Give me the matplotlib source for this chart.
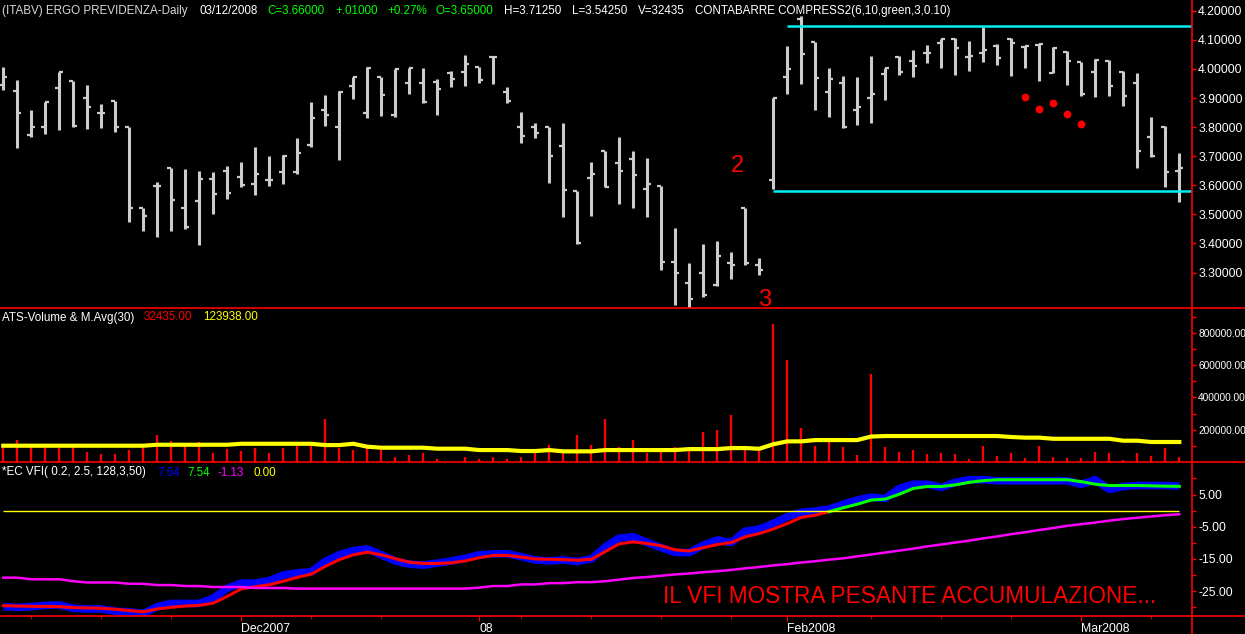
import numpy as np
import matplotlib.pyplot as plt
from matplotlib.lines import Line2D
from matplotlib.ticker import FixedLocator, FormatStrFormatter

# daily OHLC bars (one per trading day, last = 03/12/2008)
opens = [3.945, 3.925, 3.773, 3.800, 3.934, 3.959, 3.900, 3.848, 3.891, 3.800,
         3.522, 3.598, 3.660, 3.522, 3.546, 3.622, 3.649, 3.628, 3.604, 3.618,
         3.646, 3.645, 3.738, 3.859, 3.801, 3.941, 3.848, 3.973, 3.842, 3.953,
         3.953, 3.956, 3.987, 3.990, 4.008, 4.042, 3.922, 3.800, 3.800, 3.801,
         3.735, 3.581, 3.625, 3.719, 3.678, 3.689, 3.586, 3.599, 3.337, 3.265,
         3.298, 3.257, 3.334, 3.523, 3.326, 3.618, 3.973, 4.171, 4.093, 3.922,
         3.951, 3.859, 3.899, 3.982, 4.042, 4.028, 4.054, 4.090, 4.102, 4.042,
         4.054, 4.079, 4.102, 4.075, 4.082, 3.987, 4.059, 4.025, 3.990, 4.028,
         3.990, 3.953, 3.767, 3.801, 3.650]
highs = [4.006, 3.962, 3.859, 3.887, 3.990, 3.959, 3.945, 3.879, 3.891, 3.801,
         3.523, 3.612, 3.660, 3.656, 3.650, 3.646, 3.667, 3.681, 3.732, 3.702,
         3.704, 3.762, 3.887, 3.910, 3.925, 3.972, 4.008, 3.973, 4.001, 4.002,
         4.002, 3.964, 3.993, 4.048, 4.008, 4.042, 3.937, 3.853, 3.814, 3.801,
         3.815, 3.581, 3.681, 3.719, 3.767, 3.718, 3.695, 3.599, 3.452, 3.334,
         3.398, 3.410, 3.372, 3.523, 3.349, 3.901, 4.080, 4.182, 4.093, 4.002,
         3.976, 3.971, 4.044, 4.002, 4.044, 4.065, 4.082, 4.102, 4.105, 4.097,
         4.145, 4.086, 4.105, 4.079, 4.086, 4.074, 4.063, 4.025, 4.033, 4.031,
         3.994, 3.985, 3.834, 3.804, 3.7125]
lows = [3.927, 3.728, 3.766, 3.776, 3.790, 3.800, 3.793, 3.797, 3.784, 3.475,
        3.444, 3.422, 3.444, 3.450, 3.395, 3.501, 3.553, 3.595, 3.567, 3.598,
        3.604, 3.639, 3.733, 3.804, 3.687, 3.897, 3.831, 3.838, 3.836, 3.914,
        3.882, 3.842, 3.938, 3.941, 3.951, 3.948, 3.884, 3.745, 3.763, 3.609,
        3.492, 3.398, 3.494, 3.593, 3.536, 3.521, 3.490, 3.309, 3.189, 3.170,
        3.217, 3.254, 3.277, 3.326, 3.292, 3.586, 3.914, 3.948, 3.859, 3.836,
        3.796, 3.807, 3.813, 3.893, 3.979, 3.973, 4.021, 4.002, 3.979, 3.993,
        4.025, 4.013, 3.976, 4.002, 3.959, 3.985, 3.945, 3.907, 3.904, 3.907,
        3.873, 3.658, 3.696, 3.595, 3.5425]
closes = [3.972, 3.848, 3.800, 3.887, 3.989, 3.805, 3.869, 3.848, 3.801, 3.521,
          3.494, 3.598, 3.549, 3.457, 3.622, 3.570, 3.573, 3.601, 3.639, 3.618,
          3.702, 3.710, 3.831, 3.842, 3.922, 3.972, 4.003, 3.910, 4.001, 4.002,
          3.887, 3.930, 3.964, 4.017, 3.962, 4.042, 3.891, 3.769, 3.780, 3.701,
          3.584, 3.401, 3.639, 3.595, 3.650, 3.635, 3.604, 3.337, 3.298, 3.208,
          3.223, 3.357, 3.326, 3.332, 3.309, 3.900, 3.999, 4.051, 3.968, 3.964,
          3.799, 3.870, 3.914, 4.002, 3.990, 4.010, 4.054, 4.102, 4.071, 4.044,
          4.065, 4.036, 4.088, 4.079, 4.086, 4.071, 4.028, 3.914, 4.031, 3.941,
          3.907, 3.719, 3.701, 3.647, 3.660]

volume = [96700, 134000, 92600, 92600, 86500, 111000, 61700, 49300, 49300, 74000,
          96700, 167000, 130000, 101000, 124000, 53000, 78000, 65600, 86500, 55700,
          84400, 101000, 103000, 266000, 86500, 72000, 103000, 82500, 31000, 45000,
          53000, 18600, 3000, 31000, 18600, 31000, 20600, 31000, 55700, 105000,
          55700, 167000, 105000, 268000, 90000, 138000, 53000, 84000, 90000, 72000,
          183000, 196000, 289000, 101000, 66000, 856000, 633000, 210000, 97000, 128000,
          92600, 45000, 547000, 90000, 59600, 72000, 49000, 53000, 49000, 20600,
          97000, 35000, 53000, 22700, 97000, 31000, 22700, 22700, 59600, 53000,
          14000, 53000, 39000, 84000, 32435]
vol_avg = ([101000] * 11 + [107000] * 6 + [113000] * 6 + [105000] * 2 + [113000, 95000]
           + [88600] * 4 + [82500] * 3 + [74000] * 3 + [68000] * 2 + [74000] + [66000] * 3
           + [74000] * 6 + [80000] * 3 + [86500] * 2 + [82000, 110000] + [128000] * 2
           + [136000] * 4 + [158000] + [161000] * 9 + [155000] + [151000] * 2
           + [144000] * 5 + [132000] * 2 + [124000] * 2 + [123938])

vfi_raw = [-29.8, -30.0, -29.8, -29.4, -29.3, -30.3, -30.5, -30.5, -31.2, -31.4,
           -31.9, -29.8, -28.8, -28.8, -28.8, -27.2, -24.1, -22.5, -22.5, -21.7,
           -20.0, -19.3, -19.0, -15.7, -13.7, -12.4, -11.9, -13.7, -15.6, -16.6,
           -16.9, -16.3, -15.6, -14.8, -13.7, -13.4, -13.4, -14.3, -15.3, -15.6,
           -15.3, -15.8, -15.0, -11.2, -8.5, -8.1, -9.9, -11.5, -13.0, -13.0,
           -10.7, -9.1, -9.9, -6.4, -5.7, -4.0, -1.9, -0.5, -0.1, 0.5,
           2.0, 3.3, 4.2, 3.8, 6.9, 8.2, 8.2, 7.2, 8.8, 9.6,
           9.6, 9.3, 9.3, 9.3, 9.3, 9.3, 9.3, 8.2, 9.6, 6.6,
           7.5, 7.8, 7.8, 7.8, 7.64]
vfi_smooth = [-29.5, -29.6, -29.7, -29.7, -29.8, -30.1, -30.2, -30.3, -30.6, -31.0,
              -31.4, -30.5, -30.0, -29.6, -29.4, -28.7, -26.6, -24.3, -23.6, -23.0,
              -21.9, -20.7, -19.7, -17.3, -15.2, -13.7, -12.9, -13.7, -14.9, -16.0,
              -16.4, -16.4, -16.2, -15.6, -14.6, -13.9, -13.9, -14.4, -15.0, -15.1,
              -15.2, -15.4, -15.1, -12.7, -10.3, -9.7, -10.2, -10.9, -12.2, -12.5,
              -11.5, -10.5, -9.9, -8.1, -7.1, -5.7, -4.0, -2.1, -1.4, -0.3,
              0.9, 2.0, 3.3, 3.6, 5.1, 6.9, 7.5, 7.5, 8.0, 8.8,
              9.3, 9.6, 9.6, 9.6, 9.6, 9.6, 9.6, 9.0, 8.2, 7.8,
              7.8, 7.8, 7.7, 7.6, 7.54]
vfi_ma = ([-20.8, -20.8, -21.3, -21.3, -21.3, -21.9, -22.3, -22.3, -22.3, -22.7,
           -22.7, -23.1, -23.1, -23.4, -23.4, -23.7, -23.7, -23.7, -24.0, -24.0, -24.0]
          + [-24.2] * 13
          + [-23.9, -23.4, -23.4, -22.9, -22.9, -22.5, -22.5, -22.2, -22.2, -21.9, -21.4,
             -20.9, -20.6, -20.2, -19.8, -19.5, -19.1, -18.8, -18.4, -17.9, -17.5,
             -17.0, -16.6, -16.1, -15.7, -15.2, -14.8, -14.2, -13.6, -13.0, -12.4,
             -11.8, -11.1, -10.5, -9.9, -9.3, -8.6, -8.0, -7.3, -6.7, -6.0,
             -5.4, -4.7, -4.2, -3.7, -3.1, -2.6, -2.2, -1.8, -1.4, -1.13])
vfi_zero = 0.0

# compression box + signal dots
box_top, box_top_start = 4.148, 56
box_bottom, box_bottom_start = 3.580, 55
dot_idx = [73, 74, 75, 76, 77]
dot_price = [3.904, 3.863, 3.884, 3.846, 3.811]

date_ticks = [17, 34, 56, 77]
date_labels = ['Dec2007', '08', 'Feb2008', 'Mar2008']
week_ticks = [2, 7, 12, 22, 27, 37, 42, 47, 52, 62, 67, 72, 82]

W, H = 1245, 634
FONT = 'Liberation Sans'
GRAY = '#cccccc'

fig = plt.figure(figsize=(W / 100, H / 100), dpi=100, facecolor='black')
right = 1192 / W


def panel(top, bottom, labelsize=8.8):
    ax = fig.add_axes([0, 1 - bottom / H, right, (bottom - top) / H])
    ax.set_facecolor('black')
    for s in ax.spines.values():
        s.set_visible(False)
    ax.yaxis.tick_right()
    ax.tick_params(axis='y', which='both', colors='red', labelcolor='white',
                   length=3, width=1, pad=1.5, labelsize=labelsize)
    ax.tick_params(axis='x', which='both', bottom=False, labelbottom=False)
    return ax


def ftext(x, y, s, color, size=8.4):
    fig.text(x / W, 1 - y / H, s, color=color, fontsize=size, family=FONT,
             va='baseline', ha='left')


x = np.arange(len(closes))
xlim = (-3.3 / 14, (1192 - 3.3) / 14)

# ---- price panel
ax1 = panel(0, 308)
ax1.vlines(x, lows, highs, color=GRAY, lw=2.2)
ax1.hlines(opens, x - 0.28, x, color=GRAY, lw=1.6)
ax1.hlines(closes, x, x + 0.28, color=GRAY, lw=1.6)
ax1.hlines(box_top, box_top_start, 100, color='#00f0f0', lw=1.8)
ax1.hlines(box_bottom, box_bottom_start, 100, color='#00f0f0', lw=1.8)
ax1.plot(dot_idx, dot_price, 'o', color='red', ms=4.6, mec='red')
ax1.text(52.44, 3.646, '2', color='red', fontsize=17, family=FONT, ha='center', va='baseline')
ax1.text(54.4, 3.186, '3', color='red', fontsize=17, family=FONT, ha='center', va='baseline')
ax1.set_ylim(3.178, 4.237)
ax1.set_yticks(np.arange(3.3, 4.21, 0.1))
ax1.yaxis.set_major_formatter(FormatStrFormatter('%.5f'))
ax1.set_xlim(*xlim)

green = '#00ff00'
for px, s, c in [(2, '(ITABV) ERGO PREVIDENZA-Daily', '#d8d8d8'), (199, '03/12/2008', 'white'),
                 (267, 'C=3.66000', green), (335, '+.01000', green), (387, '+0.27%', green),
                 (436, 'O=3.65000', green), (504, 'H=3.71250', 'white'), (572, 'L=3.54250', 'white'),
                 (638, 'V=32435', 'white'), (695, 'CONTABARRE COMPRESS2(6,10,green,3,0.10)', 'white')]:
    ftext(px, 14, s, c)

# ---- volume panel
ax2 = panel(308, 462, labelsize=7.3)
ax2.vlines(x, 0, volume, color='red', lw=1.7)
ax2.plot(x, vol_avg, color='yellow', lw=3)
ax2.set_ylim(0, 955000)
ax2.yaxis.set_major_locator(FixedLocator([200000, 400000, 600000, 800000]))
ax2.yaxis.set_minor_locator(FixedLocator([100000, 300000, 500000, 700000, 900000]))
ax2.yaxis.set_major_formatter(FormatStrFormatter('%.2f'))
ax2.set_xlim(*xlim)
ftext(2, 320.5, 'ATS-Volume & M.Avg(30)', 'white')
ftext(144, 320.5, f'{volume[-1]:.2f}', 'red')
ftext(203, 320.5, f'{vol_avg[-1]:.2f}', 'yellow')

# ---- VFI panel
ax3 = panel(462, 616)
ax3.plot(x, vfi_raw, color='blue', lw=5.5, solid_capstyle='butt')
sm = np.array(vfi_smooth)
ax3.plot(x[:60], sm[:60], color='red', lw=2.2)
ax3.plot(x[59:], sm[59:], color=green, lw=2.2)
ax3.plot(x, vfi_ma, color='magenta', lw=1.8)
ax3.hlines(vfi_zero, x[0], x[-1], color='yellow', lw=1)
ax3.set_ylim(-32.7, 15.1)
ax3.yaxis.set_major_locator(FixedLocator([5, -5, -15, -25]))
ax3.yaxis.set_minor_locator(FixedLocator([10, 0, -10, -20, -30]))
ax3.yaxis.set_major_formatter(FormatStrFormatter('%.2f'))
ax3.set_xticks(date_ticks)
ax3.set_xticklabels(date_labels)
ax3.set_xticks(week_ticks, minor=True)
ax3.tick_params(axis='x', which='both', bottom=True, labelbottom=True, colors='red',
                labelcolor='white', labelsize=8.8, pad=1.5)
ax3.tick_params(axis='x', which='major', length=3.6)
ax3.tick_params(axis='x', which='minor', length=2.2)
for lab in ax3.get_xticklabels():
    lab.set_horizontalalignment('left')
    lab.set_family(FONT)
ax3.set_xlim(*xlim)
ax3.text(47.12, -28.8, 'IL VFI MOSTRA PESANTE ACCUMULAZIONE...', color='red',
         fontsize=16.3, family=FONT, ha='left', va='baseline')
ftext(2, 475.5, '*EC VFI( 0.2, 2.5, 128,3,50)', 'white')
ftext(157, 475.5, f'{vfi_raw[-1]:.2f}', 'blue')
ftext(187, 475.5, f'{vfi_smooth[-1]:.2f}', green)
ftext(218, 475.5, f'{vfi_ma[-1]:.2f}', 'magenta')
ftext(253, 475.5, f'{vfi_zero:.2f}', 'yellow')

for ax in (ax1, ax2, ax3):
    for lab in ax.get_yticklabels():
        lab.set_family(FONT)

# red panel separators and right axis line
for yy in (308, 462, 616):
    fig.add_artist(Line2D([0, 1], [1 - yy / H] * 2, transform=fig.transFigure, color='red', lw=1.2))
fig.add_artist(Line2D([right, right], [0, 1], transform=fig.transFigure, color='red', lw=1.2))

fig.savefig('out.png', dpi=100, facecolor='black')
